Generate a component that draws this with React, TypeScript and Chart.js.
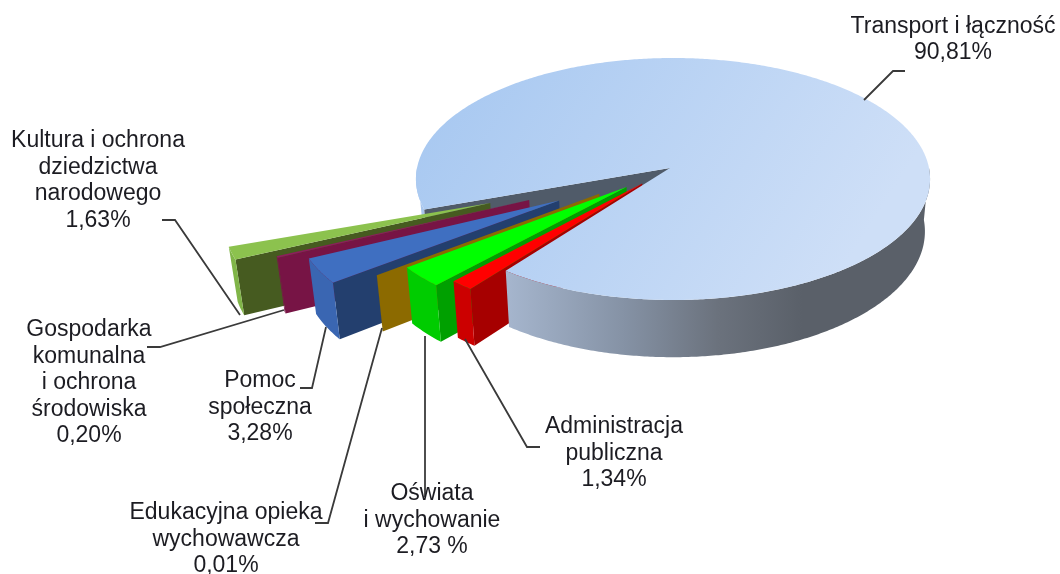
import { useEffect, useRef } from "react";
import { Chart, registerables } from "chart.js";

Chart.register(...registerables);

// ---- data ----
const categories = [
  "Transport i łączność",
  "Administracja publiczna",
  "Oświata i wychowanie",
  "Edukacyjna opieka wychowawcza",
  "Pomoc społeczna",
  "Gospodarka komunalna i ochrona środowiska",
  "Kultura i ochrona dziedzictwa narodowego",
];
const shares = [90.81, 1.34, 2.73, 0.01, 3.28, 0.2, 1.63];
const labelLines = [
  ["Transport i łączność", "90,81%"],
  ["Administracja", "publiczna", "1,34%"],
  ["Oświata", "i wychowanie", "2,73 %"],
  ["Edukacyjna opieka", "wychowawcza", "0,01%"],
  ["Pomoc", "społeczna", "3,28%"],
  ["Gospodarka", "komunalna", "i ochrona", "środowiska", "0,20%"],
  ["Kultura i ochrona", "dziedzictwa", "narodowego", "1,63%"],
];

// ---- style and layout ----
const topColors = ["#b9d2f3", "#ff0000", "#00ff00", "#b08400", "#3f6fc1", "#8f1c5e", "#8cc24e"];
const frontColors = ["#a9c6ec", "#cc0000", "#00cc00", "#8c6a00", "#3a66b2", "#7a1648", "#80b548"];
const wallColors = ["#505b69", "#a60000", "#00a000", "#8c6a00", "#233f6e", "#771445", "#465b20"];
const explosions = [0, 0.167, 0.228, 0.343, 0.498, 0.596, 0.74];
const labelCenters = [953, 614, 432, 226, 260, 89, 98];
const labelFirstLines = [26.5, 427, 494, 513, 381, 330, 141];
const LINE_HEIGHT = 26.5;
const leaders = [
  [[864, 100], [893, 71], [905, 71]],
  [[465, 339], [527, 447], [540, 447]],
  [[425, 336], [425, 497]],
  [[382, 328], [328, 523], [315, 523]],
  [[326, 327], [312, 388], [300, 388]],
  [[284, 310], [160, 347], [147, 347]],
  [[240, 315], [175, 220], [162, 220]],
];

const CENTER_X = 673;
const CENTER_Y = 168;
const RADIUS_X = 256;
const RADIUS_Y = 120;
const PERSPECTIVE = 0.0909;
const DEPTH = 52;
const FLOOR_SCALE = 0.98;
const APEX_SHIFT = -0.012; // the wedge tips sit slightly left of the big slice's circle

type P = [number, number];
const project = (u: number, v: number): P => {
  const s = 1 / (1 - PERSPECTIVE * v);
  return [CENTER_X + RADIUS_X * u * s, CENTER_Y + RADIUS_Y * v * s];
};
const floorOf = (u: number, v: number): P => {
  const s = 1 / (1 - PERSPECTIVE * v);
  const [x, y] = project(u, v);
  return [CENTER_X + (x - CENTER_X) * FLOOR_SCALE, y + DEPTH * s];
};

const pie3d = {
  id: "pie3d",
  beforeDatasetsDraw(chart: any) {
    const { ctx } = chart;
    const arcs = chart.getDatasetMeta(0).data;

    const fillPoly = (pts: P[], fill: any) => {
      ctx.beginPath();
      pts.forEach((p, i) => (i ? ctx.lineTo(p[0], p[1]) : ctx.moveTo(p[0], p[1])));
      ctx.closePath();
      ctx.fillStyle = fill;
      ctx.fill();
    };
    const geometry = (i: number) => {
      const a = arcs[i];
      const mid = (a.startAngle + a.endAngle) / 2;
      const shift = i === 0 ? 0 : APEX_SHIFT;
      const ox = shift + explosions[i] * Math.cos(mid);
      const oy = explosions[i] * Math.sin(mid);
      const tipU = i === 0 ? APEX_SHIFT : ox;
      const at = (t: number): [number, number] => [ox + Math.cos(t), oy + Math.sin(t)];
      const arcPts = (from: number, to: number, map: (u: number, v: number) => P) => {
        const n = Math.max(2, Math.ceil(Math.abs(to - from) / 0.01));
        const out: P[] = [];
        for (let k = 0; k <= n; k++) {
          const [u, v] = at(from + ((to - from) * k) / n);
          out.push(map(u, v));
        }
        return out;
      };
      return { a, tipU, oy, at, arcPts };
    };
    const drawRim = (i: number, from: number, to: number, fill: any) => {
      const g = geometry(i);
      const upper = g.arcPts(from, to, project);
      const lower = g.arcPts(from, to, floorOf).reverse();
      fillPoly([...upper, ...lower], fill);
    };
    const drawWall = (i: number, t: number, fill: any) => {
      const g = geometry(i);
      const [u, v] = g.at(t);
      fillPoly(
        [project(g.tipU, g.oy), project(u, v), floorOf(u, v), floorOf(g.tipU, g.oy)],
        fill
      );
    };
    const drawTop = (i: number, fill: any) => {
      const g = geometry(i);
      const rim = g.arcPts(g.a.startAngle, g.a.endAngle, project);
      fillPoly([project(g.tipU, g.oy), ...rim], fill);
    };

    // the large slice: left rim and the visible inner wall lie behind the others
    const main = arcs[0];
    drawRim(0, main.startAngle, Math.PI, frontColors[0]);
    drawWall(0, main.startAngle, wallColors[0]);

    // exploded slices, far to near
    for (let i = arcs.length - 1; i >= 1; i--) {
      const a = arcs[i];
      drawWall(i, a.startAngle, wallColors[i]);
      drawRim(i, a.startAngle, a.endAngle, frontColors[i]);
      drawTop(i, a.options.backgroundColor);
    }

    // the large slice's front rim and its top hide the inner parts of the walls
    const rimShade = ctx.createLinearGradient(505, 0, 930, 0);
    rimShade.addColorStop(0, "#a6b6ce");
    rimShade.addColorStop(0.28, "#8592a5");
    rimShade.addColorStop(0.5, "#6b727d");
    rimShade.addColorStop(0.7, "#5a6069");
    rimShade.addColorStop(1, "#5a6069");
    drawRim(0, 2 * Math.PI, main.endAngle, rimShade);
    const topShade = ctx.createLinearGradient(470, 60, 830, 290);
    topShade.addColorStop(0, "#a9c9f1");
    topShade.addColorStop(1, "#cedff7");
    drawTop(0, topShade);

    // leader lines
    ctx.strokeStyle = "#3a3a3a";
    ctx.lineWidth = 1.8;
    leaders.forEach((line) => {
      ctx.beginPath();
      line.forEach((p, i) => (i ? ctx.lineTo(p[0], p[1]) : ctx.moveTo(p[0], p[1])));
      ctx.stroke();
    });

    // labels
    ctx.font = '23px "Liberation Sans", Arial, sans-serif';
    ctx.fillStyle = "#1c1c22";
    ctx.textAlign = "center";
    ctx.textBaseline = "middle";
    labelLines.forEach((lines, i) => {
      lines.forEach((text, k) => {
        ctx.fillText(text, labelCenters[i], labelFirstLines[i] + k * LINE_HEIGHT);
      });
    });
    return false; // the 3D faces above replace the flat arcs
  },
};

export default function App() {
  const ref = useRef<HTMLCanvasElement>(null);
  useEffect(() => {
    const chart = new Chart(ref.current as HTMLCanvasElement, {
      type: "pie",
      data: {
        labels: categories,
        datasets: [{ data: shares, backgroundColor: topColors, borderWidth: 0 }],
      },
      options: {
        responsive: false,
        animation: false,
        rotation: 250.4,
        plugins: { legend: { display: false }, tooltip: { enabled: false } },
      },
      plugins: [pie3d],
    } as any);
    return () => chart.destroy();
  }, []);
  return (
    <div style={{ position: "fixed", left: 0, top: 0, width: 1060, height: 574, background: "#fff" }}>
      <canvas ref={ref} width={1060} height={574} style={{ display: "block", filter: "blur(0.6px)" }} />
    </div>
  );
}
